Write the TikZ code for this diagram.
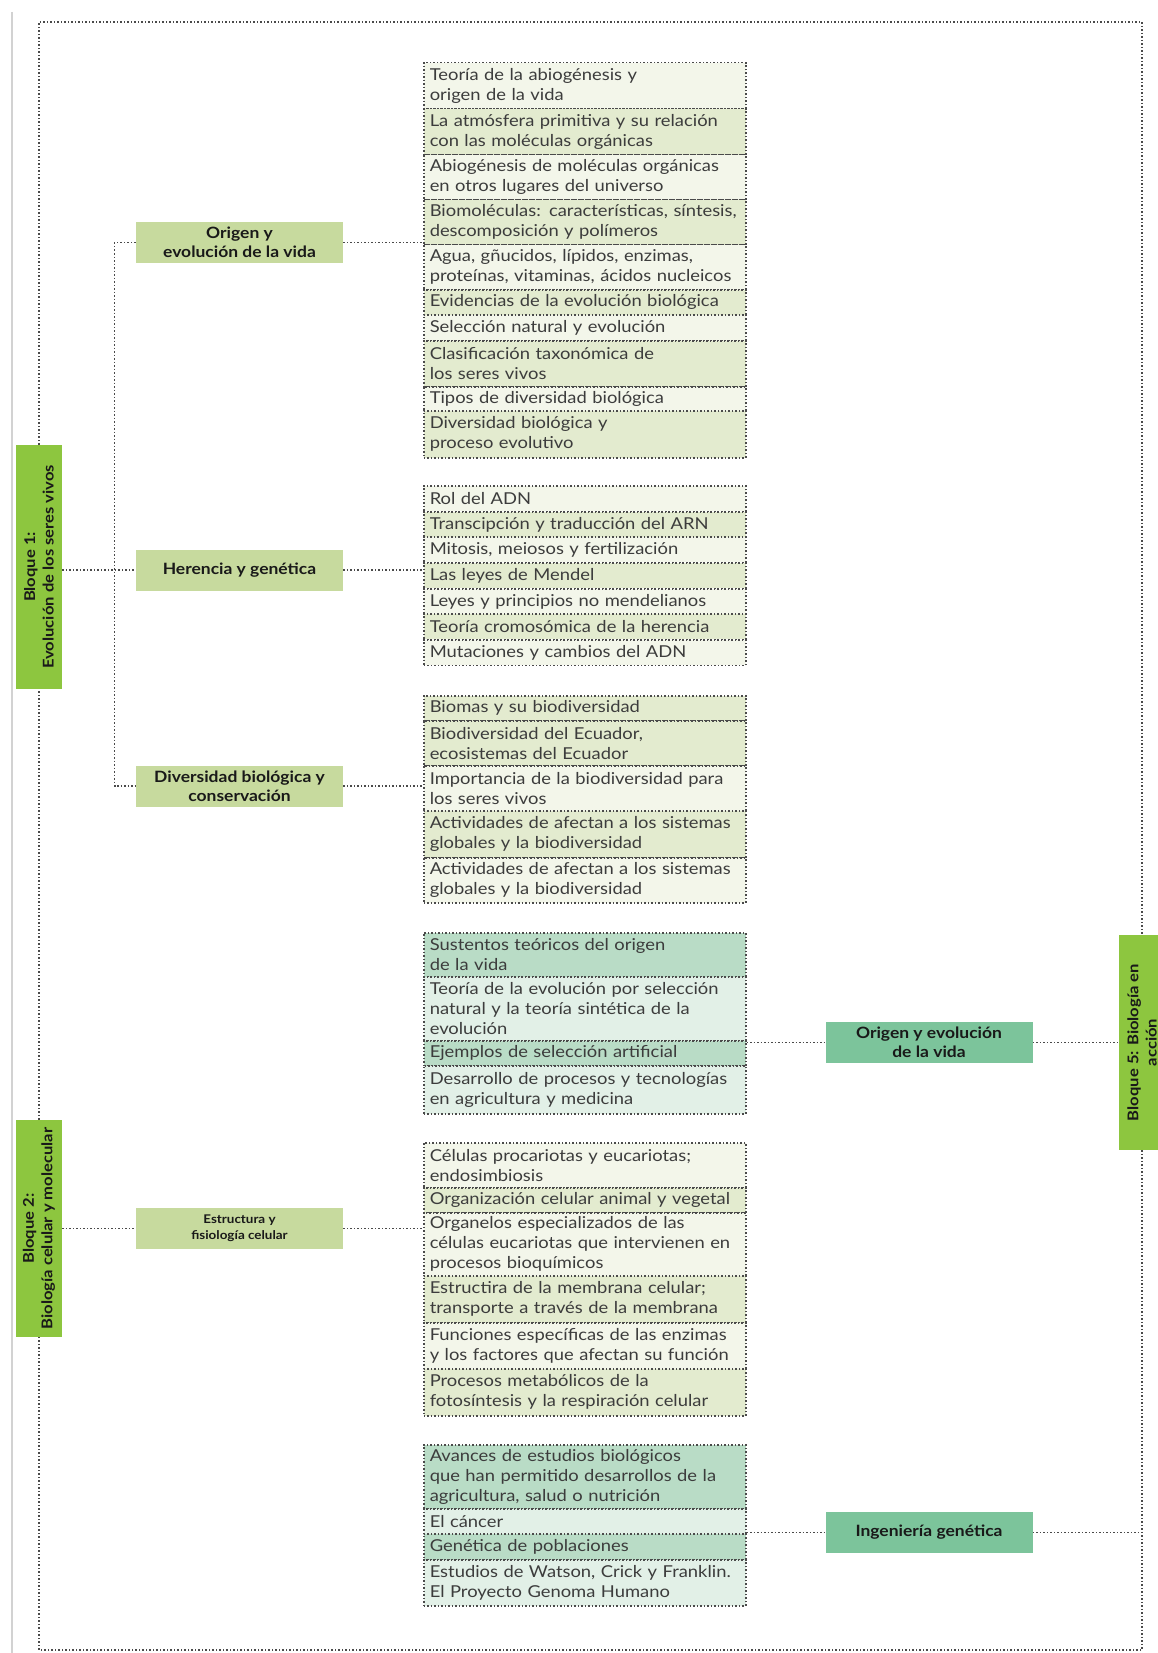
\documentclass[tikz,border=0pt]{standalone}
\usepackage{fontspec}
\setmainfont{Lato}[FakeStretch=1.12]
\definecolor{dotgray}{HTML}{4A4A4A}
\definecolor{txtgray}{HTML}{3C3C3C}
\definecolor{bloqueG}{HTML}{8DC63F}
\definecolor{subG}{HTML}{C7DA9E}
\definecolor{tealG}{HTML}{7CC49B}
\definecolor{liteY}{HTML}{F3F6EA}
\definecolor{greenY}{HTML}{E3EBCF}
\definecolor{tealD}{HTML}{B9DCC6}
\definecolor{tealL}{HTML}{E2F0E7}
\begin{document}
\begin{tikzpicture}[x=0.5pt,y=0.5pt,yscale=-1,
  link/.style={draw=dotgray, densely dotted, line width=0.75pt},
  item/.style={link, anchor=north west, text width=155pt, inner xsep=3pt, inner ysep=1pt,
    align=left, text=txtgray, font=\fontsize{8.2}{10}\selectfont},
  subbox/.style={fill=subG, minimum width=103.5pt, minimum height=20.5pt, inner sep=1pt,
    align=center, font=\bfseries\fontsize{7.8}{9.5}\selectfont, text=black!90},
  tealbox/.style={subbox, fill=tealG},
  bloque/.style={fill=bloqueG, rotate=90, minimum height=23pt, inner sep=1pt,
    align=center, font=\bfseries\fontsize{7.4}{9.2}\selectfont, text=black!90}]
\useasboundingbox (0,0) rectangle (1157,1653);

%page margin line
\draw [gray!35, line width=0.8pt] (12,12) -- (12,1653);

%Bloques
\node [bloque, minimum width=122pt] (bloque1) at (39,567) {Bloque 1:\\Evolución de los seres vivos};
\node [bloque, minimum width=108.5pt] (bloque2) at (39,1228.5) {Bloque 2:\\Biología celular y molecular};
\node [bloque, minimum width=107.5pt] (bloque5) at (1142,1042.5) {Bloque 5: Biología en\\acción};

%frame corners
\coordinate (tl) at (39,22);
\coordinate (tr) at (1142,22);
\coordinate (br) at (1142,1650);
\coordinate (bl) at (39,1650);

%Sub boxes
\node [subbox] (origen) at (239.5,242.5) {Origen y\\evolución de la vida};
\node [subbox] (herencia) at (239.5,570) {Herencia y genética};
\node [subbox] (diversidad) at (239.5,786) {Diversidad biológica y\\conservación};
\node [subbox, font=\bfseries\fontsize{6}{8}\selectfont] (estructura) at (239.5,1228.5) {Estructura y\\fisiología celular};
\node [tealbox] (origenB) at (929,1042.5) {Origen y evolución\\de la vida};
\node [tealbox] (ingenieria) at (929,1532.5) {Ingeniería genética};

%List: origen y evolucion
\node [item, fill=liteY, minimum height=23pt] (ov1) at (423,62) {Teoría de la abiogénesis y\\origen de la vida};
\node [item, fill=greenY, minimum height=23pt] (ov2) at (423,108) {La atmósfera primitiva y su relación\\con las moléculas orgánicas};
\node [item, fill=liteY, minimum height=22.5pt] (ov3) at (423,154) {Abiogénesis de moléculas orgánicas\\en otros lugares del universo};
\node [item, fill=greenY, minimum height=22.5pt] (ov4) at (423,199) {Biomoléculas: características, síntesis,\\descomposición y polímeros};
\node [item, fill=liteY, minimum height=22.5pt] (ov5) at (423,244) {Agua, gñucidos, lípidos, enzimas,\\proteínas, vitaminas, ácidos nucleicos};
\node [item, fill=greenY, minimum height=12.5pt] (ov6) at (423,289) {Evidencias de la evolución biológica};
\node [item, fill=liteY, minimum height=13pt] (ov7) at (423,314) {Selección natural y evolución};
\node [item, fill=greenY, minimum height=23pt] (ov8) at (423,340) {Clasificación taxonómica de\\los seres vivos};
\node [item, fill=liteY, minimum height=12pt] (ov9) at (423,386) {Tipos de diversidad biológica};
\node [item, fill=greenY, minimum height=23.5pt] (ov10) at (423,410) {Diversidad biológica y\\proceso evolutivo};

%List: herencia
\node [item, fill=liteY, minimum height=12.85pt] (hg1) at (423,485) {Rol del ADN};
\node [item, fill=greenY, minimum height=12.85pt] (hg2) at (423,511) {Transcipción y traducción del ARN};
\node [item, fill=liteY, minimum height=12.85pt] (hg3) at (423,536) {Mitosis, meiosos y fertilización};
\node [item, fill=greenY, minimum height=12.85pt] (hg4) at (423,562) {Las leyes de Mendel};
\node [item, fill=liteY, minimum height=12.85pt] (hg5) at (423,588) {Leyes y principios no mendelianos};
\node [item, fill=greenY, minimum height=12.85pt] (hg6) at (423,613) {Teoría cromosómica de la herencia};
\node [item, fill=liteY, minimum height=12.85pt] (hg7) at (423,639) {Mutaciones y cambios del ADN};

%List: diversidad
\node [item, fill=greenY, minimum height=12.5pt] (dc1) at (423,695) {Biomas y su biodiversidad};
\node [item, fill=greenY, minimum height=22.5pt] (dc2) at (423,720) {Biodiversidad del Ecuador,\\ecosistemas del Ecuador};
\node [item, fill=liteY, minimum height=22.5pt] (dc3) at (423,765) {Importancia de la biodiversidad para\\los seres vivos};
\node [item, fill=greenY, minimum height=23.5pt] (dc4) at (423,810) {Actividades de afectan a los sistemas\\globales y la biodiversidad};
\node [item, fill=liteY, minimum height=22.5pt] (dc5) at (423,857) {Actividades de afectan a los sistemas\\globales y la biodiversidad};

%List: bloque 5 origen
\node [item, fill=tealD, minimum height=22pt] (tv1) at (423,932) {Sustentos teóricos del origen\\de la vida};
\node [item, fill=tealL, minimum height=32pt] (tv2) at (423,976) {Teoría de la evolución por selección\\natural y la teoría sintética de la\\evolución};
\node [item, fill=tealD, minimum height=12.5pt] (tv3) at (423,1040) {Ejemplos de selección artificial};
\node [item, fill=tealL, minimum height=24pt] (tv4) at (423,1065) {Desarrollo de procesos y tecnologías\\en agricultura y medicina};

%List: estructura
\node [item, fill=liteY, minimum height=22.5pt] (ef1) at (423,1142) {Células procariotas y eucariotas;\\endosimbiosis};
\node [item, fill=greenY, minimum height=12.5pt] (ef2) at (423,1187) {Organización celular animal y vegetal};
\node [item, fill=liteY, minimum height=31.5pt] (ef3) at (423,1212) {Organelos especializados de las\\células eucariotas que intervienen en\\procesos bioquímicos};
\node [item, fill=greenY, minimum height=23.5pt] (ef4) at (423,1275) {Estructira de la membrana celular;\\transporte a través de la membrana};
\node [item, fill=liteY, minimum height=23pt] (ef5) at (423,1322) {Funciones específicas de las enzimas\\y los factores que afectan su función};
\node [item, fill=greenY, minimum height=23.5pt] (ef6) at (423,1368) {Procesos metabólicos de la\\fotosíntesis y la respiración celular};

%List: ingenieria
\node [item, fill=tealD, minimum height=32pt] (ig1) at (423,1444) {Avances de estudios biológicos\\que han permitido desarrollos de la\\agricultura, salud o nutrición};
\node [item, fill=tealL, minimum height=12.5pt] (ig2) at (423,1508) {El cáncer};
\node [item, fill=tealD, minimum height=13pt] (ig3) at (423,1533) {Genética de poblaciones};
\node [item, fill=tealL, minimum height=23pt] (ig4) at (423,1559) {Estudios de Watson, Crick y Franklin.\\El Proyecto Genoma Humano};

%frame
\draw [link] (bloque1.east) -- (tl) -- (tr) -- (bloque5.east);
\draw [link] (bloque5.west) -- (br) -- (bl) -- (bloque2.west);
\draw [link] (bloque2.east) -- (bloque1.west);

%connectors
\draw [link] (bloque1.south |- herencia.west) -- (herencia.west);
\draw [link] (origen.west) -- ++(-21,0) |- (diversidad.west);
\draw [link] (origen.east) -- (origen.east -| ov1.west);
\draw [link] (herencia.east) -- (herencia.east -| hg1.west);
\draw [link] (diversidad.east) -- (diversidad.east -| dc1.west);
\draw [link] (bloque2.south) -- (estructura.west);
\draw [link] (estructura.east) -- (estructura.east -| ef1.west);
\draw [link] (origenB.west -| tv1.east) -- (origenB.west);
\draw [link] (origenB.east) -- (bloque5.north);
\draw [link] (ingenieria.west -| ig1.east) -- (ingenieria.west);
\draw [link] (ingenieria.east) -- (ingenieria.east -| br);
\end{tikzpicture}
\end{document}
